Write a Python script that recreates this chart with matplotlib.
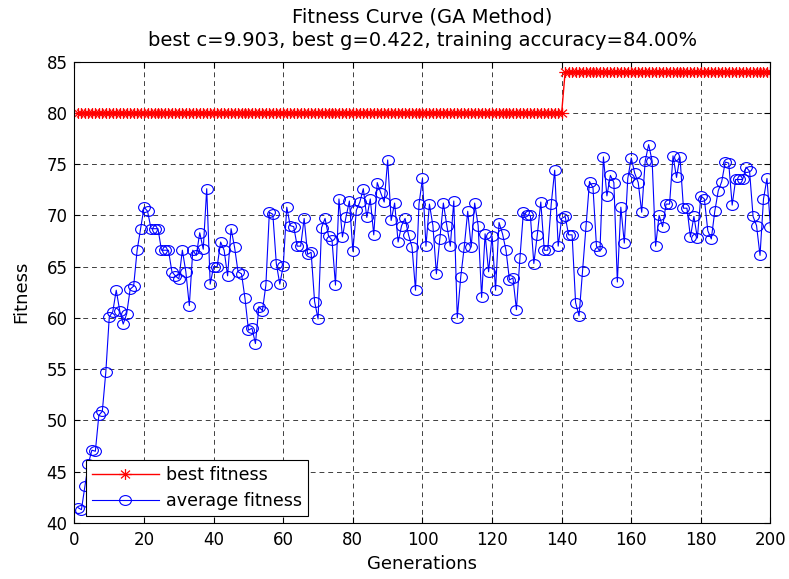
import matplotlib
matplotlib.use("Agg")
import matplotlib.pyplot as plt
from matplotlib.path import Path
import numpy as np

plt.rcParams['font.family'] = ['DejaVu Sans']

title_lines = ["Fitness Curve (GA Method)",
               "best c=9.903, best g=0.422, training accuracy=84.00%"]
x_label = "Generations"
y_label = "Fitness"
legend_labels = ["best fitness", "average fitness"]

x_ticks = [0, 20, 40, 60, 80, 100, 120, 140, 160, 180, 200]
y_ticks = [40, 45, 50, 55, 60, 65, 70, 75, 80, 85]

# best fitness per generation (1..200)
best_fitness = [80.0] * 140 + [84.0] * 60

# average fitness per generation (1..200)
avg_fitness = [
    41.5, 41.3, 43.6, 45.8, 47.1, 47.0, 50.5, 50.9, 54.7, 60.1,
    60.6, 62.7, 60.7, 59.4, 60.4, 62.8, 63.1, 66.6, 68.7, 70.8,
    70.4, 68.7, 68.7, 68.7, 66.6, 66.6, 66.6, 64.5, 64.1, 63.8,
    66.6, 64.5, 61.2, 66.6, 66.1, 68.3, 66.7, 72.6, 63.3, 65.0,
    65.0, 67.4, 66.6, 64.1, 68.7, 66.9, 64.5, 64.3, 61.9, 58.8,
    59.0, 57.5, 61.1, 60.7, 63.2, 70.3, 70.1, 65.3, 63.3, 65.1,
    70.8, 69.0, 68.9, 67.0, 67.0, 69.7, 66.2, 66.4, 61.6, 59.9,
    68.8, 69.7, 68.0, 67.6, 63.2, 71.6, 67.9, 69.8, 71.4, 66.5,
    70.5, 71.3, 72.6, 69.8, 71.6, 68.1, 73.2, 72.2, 71.3, 75.4,
    69.5, 71.2, 67.4, 69.0, 69.7, 68.1, 66.9, 62.7, 71.1, 73.6,
    67.0, 71.1, 69.0, 64.3, 67.7, 71.2, 69.0, 67.0, 71.4, 60.0,
    64.0, 66.9, 70.4, 66.9, 71.2, 69.0, 62.0, 68.2, 64.5, 68.0,
    62.7, 69.3, 68.2, 66.6, 63.7, 63.9, 60.8, 65.8, 70.3, 70.0,
    70.0, 65.3, 68.1, 71.3, 66.6, 66.6, 71.1, 74.4, 67.0, 69.7,
    69.9, 68.1, 68.1, 61.5, 60.2, 64.6, 69.0, 73.3, 72.7, 67.0,
    66.5, 75.7, 71.9, 73.9, 73.2, 63.5, 70.8, 67.3, 73.6, 75.6,
    74.1, 73.2, 70.3, 75.3, 76.9, 75.3, 67.0, 70.0, 68.9, 71.1,
    71.1, 75.8, 73.7, 75.7, 70.7, 70.7, 67.9, 69.9, 67.8, 71.9,
    71.6, 68.5, 67.7, 70.4, 72.4, 73.3, 75.2, 75.1, 71.0, 73.5,
    73.5, 73.5, 74.7, 74.3, 69.9, 69.0, 66.1, 71.6, 73.6, 68.9,
]

gens_best = list(range(1, len(best_fitness) + 1))
gens_avg = list(range(1, len(avg_fitness) + 1))

# MATLAB-like markers (slightly wide, as in the reference)
_c = Path.unit_circle()
ellipse_marker = Path(_c.vertices * np.array([1.2, 1.0]), _c.codes)
_d = 0.72
asterisk_marker = Path(
    [(-1.15, 0), (1.15, 0), (0, -1), (0, 1),
     (-1.15 * _d, -_d), (1.15 * _d, _d), (-1.15 * _d, _d), (1.15 * _d, -_d)],
    [Path.MOVETO, Path.LINETO] * 4)

fig = plt.figure(figsize=(7.89, 5.79), dpi=100)
ax = fig.add_axes([0.0944, 0.0967, 0.8821, 0.797])

ax.plot(gens_best, best_fitness, color='red', marker=asterisk_marker,
        markersize=9, markerfacecolor='none', markeredgecolor='red',
        markeredgewidth=0.9, linewidth=1.0, label=legend_labels[0])
ax.plot(gens_avg, avg_fitness, color='blue', marker=ellipse_marker,
        markersize=8.5, markerfacecolor='none', markeredgecolor='blue',
        markeredgewidth=0.8, linewidth=0.8, label=legend_labels[1])

ax.set_xlim(0, 200)
ax.set_ylim(40, 85)
ax.set_xticks(x_ticks)
ax.set_yticks(y_ticks)
ax.tick_params(axis='both', direction='in', top=True, right=True,
               labelsize=12, length=4, width=0.8)
ax.tick_params(axis='x', pad=6)
ax.tick_params(axis='y', pad=5)
ax.grid(True, linestyle=(0, (5, 4)), color='black', linewidth=0.7, alpha=0.75)
for s in ax.spines.values():
    s.set_linewidth(0.8)

ax.set_title("\n".join(title_lines), fontsize=14, linespacing=1.3, pad=11)
ax.set_xlabel(x_label, fontsize=13, labelpad=4)
ax.set_ylabel(y_label, fontsize=13, labelpad=12)

leg = ax.legend(loc='lower left', bbox_to_anchor=(0.0165, 0.015),
                borderaxespad=0, fontsize=12.6,
                fancybox=False, framealpha=1, edgecolor='black',
                handlelength=3.8, handletextpad=0.4, borderpad=0.35,
                labelspacing=0.45)
leg.get_frame().set_linewidth(0.8)

fig.savefig("out.png", dpi=100)
